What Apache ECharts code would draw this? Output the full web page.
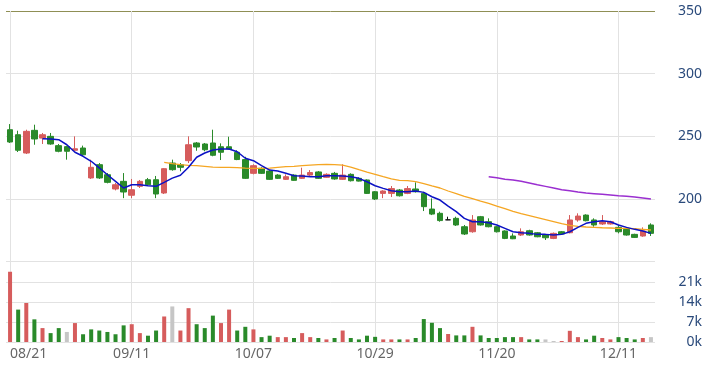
<!DOCTYPE html>
<html><head><meta charset="utf-8">
<script src="https://cdn.jsdelivr.net/npm/echarts@6/dist/echarts.min.js"></script>
<style>html,body{margin:0;padding:0;background:#fff}#c{width:713px;height:370px}</style>
</head><body><div id="c"></div>
<script>
const dates = ["08/21","08/22","08/23","08/26","08/27","08/28","08/29","08/30","09/02","09/03",
"09/04","09/05","09/06","09/09","09/10","09/11","09/16","09/17","09/18","09/19",
"09/20","09/23","09/24","09/25","09/26","09/27","09/30","10/01","10/02","10/04",
"10/07","10/08","10/10","10/11","10/14","10/15","10/16","10/17","10/18","10/21",
"10/22","10/23","10/24","10/25","10/28","10/29","10/30","10/31","11/01","11/04",
"11/05","11/06","11/07","11/08","11/11","11/12","11/13","11/14","11/15","11/18",
"11/20","11/21","11/22","11/25","11/26","11/27","11/28","11/29","12/02","12/03",
"12/04","12/05","12/06","12/09","12/10","12/11","12/12","12/13","12/16","12/17"];

const opens = [255.3,251.3,236.7,254.8,248.6,250.0,242.6,241.8,238.9,240.7,
216.8,227.4,219.4,208.0,214.1,203.0,210.1,215.4,215.4,204.8,
228.7,227.4,230.6,244.7,243.9,244.7,241.7,241.7,237.3,231.5,
220.5,224.5,222.3,219.1,215.7,219.1,216.5,219.1,221.6,217.3,
220.5,215.7,219.7,216.5,215.2,205.8,204.5,204.5,207.2,204.5,
208.0,204.5,192.0,188.6,183.4,184.6,177.9,173.9,185.9,181.9,
177.9,174.5,170.5,171.3,174.7,173.1,171.3,168.6,173.9,173.1,
183.3,187.2,183.3,180.1,180.1,177.4,175.8,171.8,170.5,179.3];

const closes = [245.5,238.9,254.0,247.9,251.3,243.9,238.1,238.1,240.1,235.3,
225.3,216.8,213.3,211.4,205.6,207.4,214.1,211.4,204.0,224.2,
223.4,225.3,243.3,241.5,239.3,234.9,237.3,239.9,231.5,216.5,
226.6,220.5,215.7,216.5,217.8,214.9,219.1,221.1,216.5,219.7,
216.0,219.1,214.6,214.3,204.5,200.0,206.4,208.3,202.6,208.3,
205.8,193.9,188.0,182.8,183.4,179.3,172.1,183.3,179.3,177.9,
173.9,168.6,168.3,173.9,171.3,169.9,169.1,172.6,172.1,183.3,
186.4,182.7,179.3,181.9,181.9,173.9,171.3,169.4,174.5,172.6];

const lows = [244.7,237.5,235.9,243.3,243.9,243.3,237.3,231.4,238.5,234.5,
216.0,216.0,212.5,206.9,200.7,200.7,208.8,211.0,200.7,204.0,
222.6,222.1,228.7,238.5,238.1,234.1,231.1,239.5,231.0,216.0,
219.7,220.0,215.2,216.0,215.2,214.5,216.0,217.8,216.0,216.8,
215.4,215.2,214.0,214.0,204.0,199.2,200.7,201.6,202.0,203.9,
205.2,190.4,187.2,181.9,183.2,178.5,171.3,173.1,178.8,177.4,
173.3,168.0,168.0,170.5,170.8,169.5,167.3,168.0,171.5,172.6,
181.9,182.2,177.9,179.3,179.6,172.6,170.8,168.9,169.9,170.5];

const highs = [259.8,254.5,255.3,259.3,252.7,252.7,243.9,242.5,250.0,242.6,
231.4,228.7,220.7,212.8,220.7,216.0,215.2,216.8,218.4,224.7,
231.4,228.7,250.0,245.5,244.7,255.3,244.4,249.7,238.9,233.7,
227.7,225.3,223.0,219.8,219.7,219.7,225.0,223.1,222.3,220.5,
221.6,227.7,220.5,217.3,215.7,206.4,207.0,210.4,208.0,210.4,
213.3,205.8,200.5,189.9,185.9,185.9,179.3,187.2,186.5,184.6,
178.5,175.0,172.6,176.6,175.5,173.7,171.8,173.3,174.5,187.2,
188.6,187.8,184.6,187.2,182.7,179.3,176.3,172.3,177.4,180.6];

// volume in thousands
const volumes = [24.5,11.3,13.6,7.9,4.85,3.1,4.85,3.5,6.6,2.7,
4.4,4.0,3.5,2.7,5.8,6.2,3.1,2.2,4.0,8.9,
12.4,4.0,11.8,6.2,4.85,9.2,6.6,11.3,4.0,5.3,
4.4,1.7,2.2,1.7,1.7,1.4,3.1,1.7,1.4,0.9,
1.4,4.0,1.4,0.9,2.2,1.8,0.9,0.9,0.9,0.9,
1.4,8.0,6.7,4.85,2.8,2.3,2.3,5.3,2.3,1.4,
1.4,1.7,1.7,1.7,0.9,0.9,0.9,0.35,0.35,3.9,
1.7,0.9,2.2,1.4,0.9,1.7,1.4,0.9,1.4,1.7];

// u = up, d = down, n = unchanged
const volDir = ["u","d","u","d","u","d","d","n","u","d",
"d","d","d","d","d","u","u","d","d","u",
"n","u","u","d","d","d","u","u","d","d",
"u","d","d","u","u","d","u","u","d","u",
"d","u","d","d","d","d","u","u","d","u",
"d","d","d","d","u","d","d","u","d","d",
"d","d","d","u","d","d","n","n","u","u",
"u","d","d","u","u","d","d","d","u","n"];

const ma5Start = 4;
const ma5 = [248.1,247.9,247.3,243.3,237.3,234.1,230.1,224.8,219.4,214.1,
208.8,211.4,211.4,210.6,210.1,213.3,216.7,218.9,225.3,233.3,
236.7,239.1,239.9,239.9,237.7,232.5,230.6,226.6,223.1,222.3,
220.5,218.6,218.4,217.8,217.8,218.6,218.6,218.4,217.8,216.5,
213.8,210.6,208.5,206.6,205.8,205.8,206.4,205.3,201.8,199.2,
194.4,189.9,184.6,181.9,181.9,181.1,179.3,176.6,173.9,173.1,
172.6,171.8,171.8,171.3,171.8,173.9,177.4,180.6,181.9,182.7,
181.9,179.3,177.4,175.8,174.5,172.6];

const ma20Start = 19;
const ma20 = [229.3,228.2,227.4,226.9,226.6,226.1,225.5,225.3,225.3,225.0,
224.7,224.5,224.5,224.7,225.3,225.8,226.1,226.6,227.1,227.4,
227.7,227.4,227.1,225.5,223.4,221.5,219.7,217.8,216.0,214.9,
214.6,213.8,212.2,210.4,208.8,206.4,204.3,202.2,200.3,198.4,
196.6,194.4,192.3,190.2,188.3,186.7,185.1,183.5,181.9,180.3,
179.0,178.2,177.7,177.4,177.1,176.9,176.6,176.6,176.3,175.8,175.3];

const ma60Start = 59;
const ma60 = [217.8,217.0,215.7,215.2,214.1,212.8,211.4,210.1,208.8,207.4,
206.6,205.6,204.8,204.3,203.8,203.2,202.6,202.2,201.6,200.8,200.0];

const priceTicks = [150, 350, 50];
const volTicks = [0, 28, 7];

const UP = '#d65c5c', DOWN = '#2a8a2a', FLAT = '#c6c6c6';
const GRIDC = '#e2e2e2';
const dirColor = {u: UP, d: DOWN, n: FLAT};

function pad(start, arr) {
  const out = [];
  for (let i = 0; i < start; i++) out.push(null);
  return out.concat(arr);
}

const candles = opens.map((o, i) => [o, closes[i], lows[i], highs[i]]);
const volData = volumes.map((v, i) => ({value: v, itemStyle: {color: dirColor[volDir[i]]}}));

const chart = echarts.init(document.getElementById('c'), null, {renderer: 'canvas'});
const labelFont = 'Noto Sans';
chart.setOption({
  animation: false,
  backgroundColor: '#fff',
  grid: [
    {left: 6, right: 58, top: 11, height: 250.7},
    {left: 6, right: 58, top: 261.7, height: 80.3}
  ],
  xAxis: [
    {type: 'category', gridIndex: 0, data: dates, boundaryGap: true,
     axisLine: {show: false}, axisTick: {show: false}, axisLabel: {show: false},
     splitLine: {show: true, interval: 14, alignWithLabel: true, lineStyle: {color: GRIDC, width: 1}}},
    {type: 'category', gridIndex: 1, data: dates, boundaryGap: true,
     axisLine: {show: false}, axisTick: {show: false},
     axisLabel: {show: true, interval: 14, color: '#666', fontSize: 14, fontFamily: labelFont, margin: 5, alignMinLabel: 'left'},
     splitLine: {show: true, interval: 14, alignWithLabel: true, lineStyle: {color: GRIDC, width: 1}}}
  ],
  yAxis: [
    {type: 'value', gridIndex: 0, position: 'right', min: priceTicks[0], max: priceTicks[1], interval: priceTicks[2],
     axisLine: {show: false}, axisTick: {show: false},
     axisLabel: {showMinLabel: false, align: 'right', margin: 47, color: '#2a4a7b', fontSize: 14, fontFamily: labelFont},
     splitLine: {show: true, lineStyle: {color: [GRIDC, GRIDC, GRIDC, GRIDC, '#8f8f55'], width: 1}}},
    {type: 'value', gridIndex: 1, position: 'right', min: volTicks[0], max: volTicks[1], interval: volTicks[2],
     axisLine: {show: false}, axisTick: {show: false},
     axisLabel: {showMaxLabel: false, align: 'right', margin: 47, color: '#2a4a7b', fontSize: 14, fontFamily: labelFont, formatter: '{value}k'},
     splitLine: {show: true, lineStyle: {color: GRIDC, width: 1}}}
  ],
  series: [
    {type: 'candlestick', xAxisIndex: 0, yAxisIndex: 0, data: candles, barWidth: 6,
     itemStyle: {color: UP, color0: DOWN, borderColor: UP, borderColor0: DOWN, borderColorDoji: '#111', borderWidth: 1}},
    {type: 'line', xAxisIndex: 0, yAxisIndex: 0, data: pad(ma20Start, ma20), symbol: 'none', connectNulls: false,
     lineStyle: {color: '#f5a623', width: 1.3}, z: 3},
    {type: 'line', xAxisIndex: 0, yAxisIndex: 0, data: pad(ma60Start, ma60), symbol: 'none',
     lineStyle: {color: '#9a2fd0', width: 1.5}, z: 3},
    {type: 'line', xAxisIndex: 0, yAxisIndex: 0, data: pad(ma5Start, ma5), symbol: 'none',
     lineStyle: {color: '#0c12c4', width: 1.5}, z: 4},
    {type: 'bar', xAxisIndex: 1, yAxisIndex: 1, data: volData, barWidth: 4}
  ]
});
</script>
</body></html>
